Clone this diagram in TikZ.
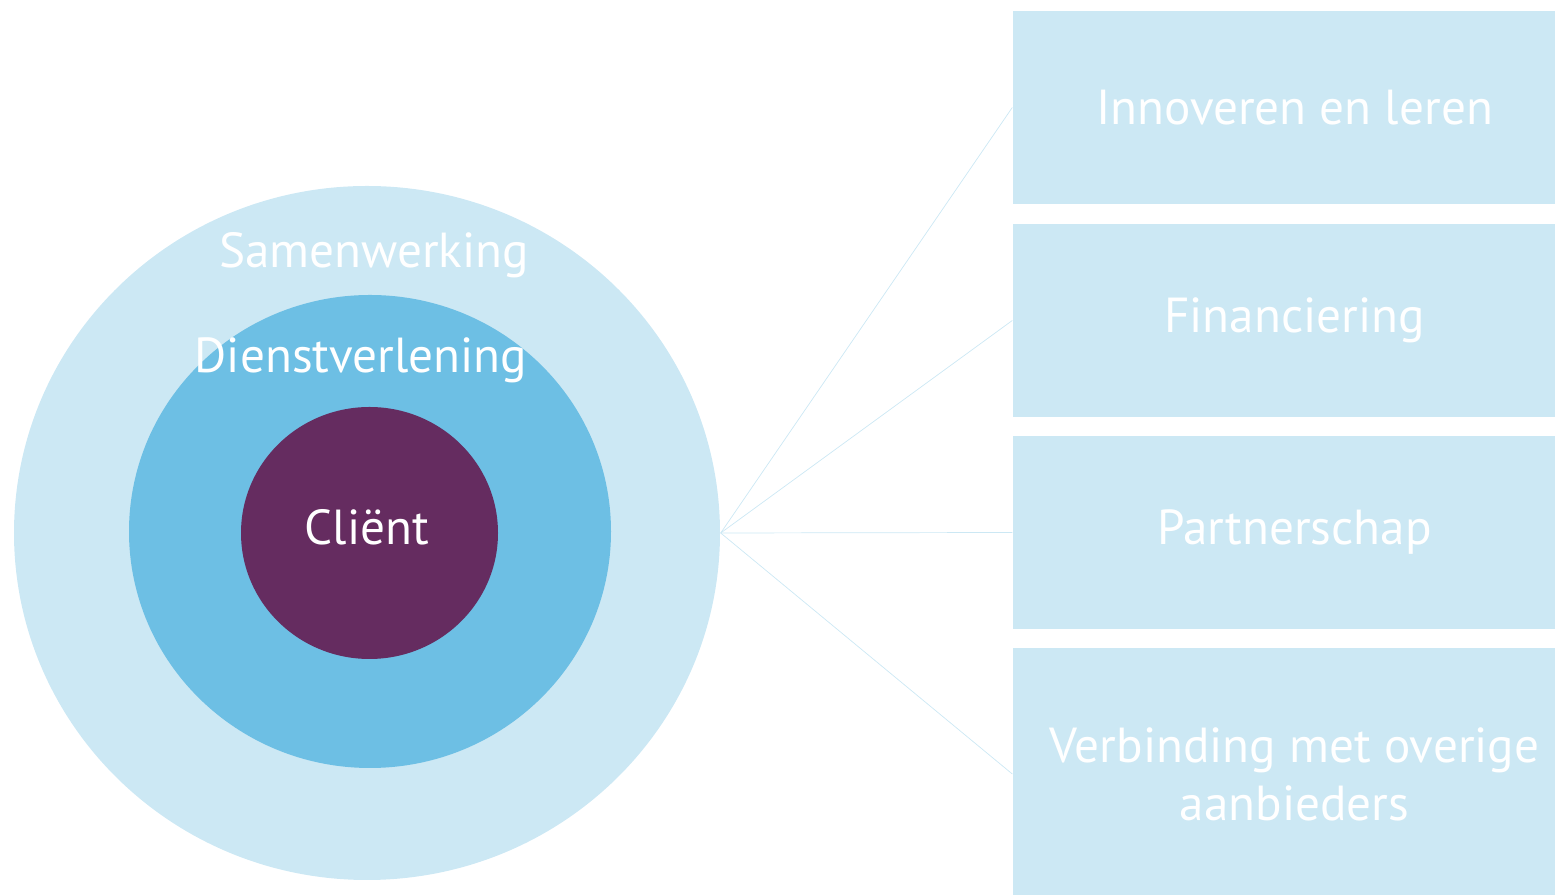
\documentclass[tikz,border=0pt]{standalone}
\usepackage{fontspec}
\setmainfont{PT Sans}
\usetikzlibrary{shapes.geometric}
\definecolor{lightblue}{HTML}{CCE8F4}
\definecolor{midblue}{HTML}{6DBFE4}
\definecolor{plum}{HTML}{652C60}
\tikzset{
  ring/.style={ellipse, inner sep=0pt},
  pillar/.style={fill=lightblue, minimum width=5.63cm, minimum height=1.93cm, text=white, align=center, font=\fontsize{14}{16.5}\selectfont},
  label/.style={text=white, font=\fontsize{14}{16}\selectfont, anchor=base}
}
\begin{document}
\begin{tikzpicture}
        \useasboundingbox (0,0) rectangle (15.55,8.95);
        \clip (0,0) rectangle (15.55,8.95);

        \node[ring, fill=lightblue, minimum width=7.06cm, minimum height=6.94cm] (samen) at (3.67,3.62) {};
        \node[ring, fill=midblue, minimum width=4.82cm, minimum height=4.73cm] (dienst) at (3.70,3.635) {};
        \node[ring, fill=plum, minimum width=2.57cm, minimum height=2.52cm] (client) at (3.695,3.62) {};

        \node[label] (samentxt) at (3.74,6.27) {Samenwerking};
        \node[label] (diensttxt) at (3.61,5.22) {Dienstverlening};
        \node[label] (clienttxt) at (3.67,3.50) {Cliënt};

        \node[pillar] (innov) at (12.945,7.875) {Innoveren en leren};
        \node[pillar] (financ) at (12.945,5.745) {Financiering};
        \node[pillar] (partner) at (12.945,3.625) {Partnerschap};
        \node[pillar, minimum height=2.52cm] (verbind) at (12.945,1.21) {Verbinding met overige\\aanbieders};

        \draw[lightblue, very thin] (samen.east) -- (innov.west);
        \draw[lightblue, very thin] (samen.east) -- (financ.west);
        \draw[lightblue, very thin] (samen.east) -- (partner.west);
        \draw[lightblue, very thin] (samen.east) -- (verbind.west);
    \end{tikzpicture}
\end{document}
